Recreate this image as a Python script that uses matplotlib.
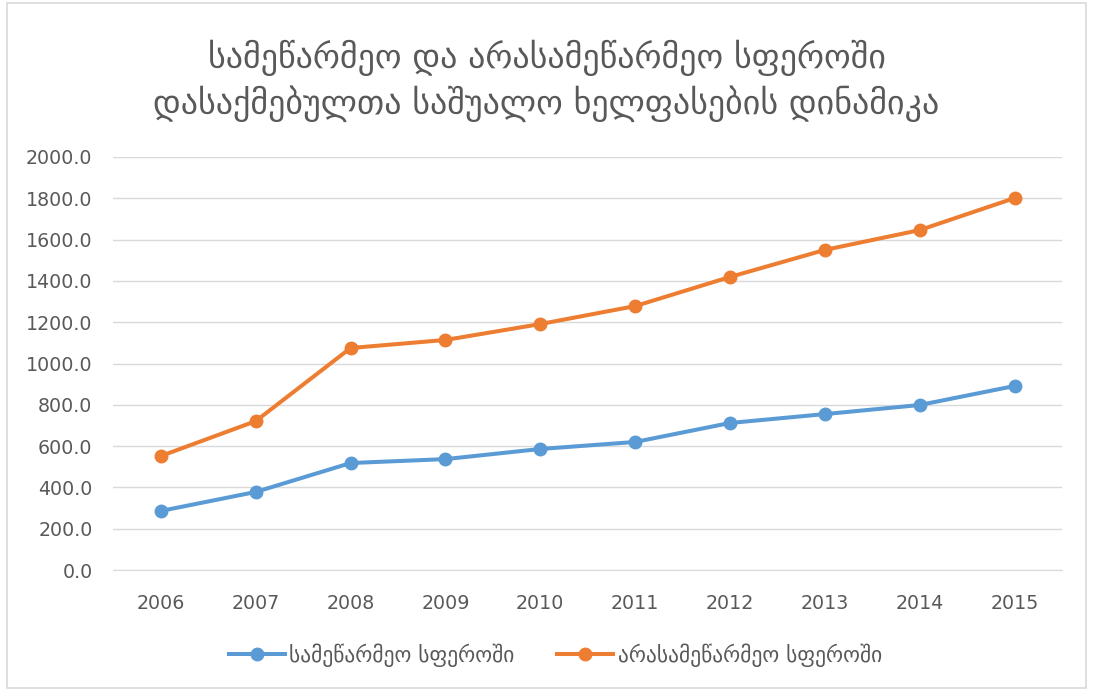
import matplotlib
matplotlib.use("Agg")
import matplotlib.pyplot as plt
from matplotlib.patches import Rectangle

years = ["2006", "2007", "2008", "2009", "2010", "2011", "2012", "2013", "2014", "2015"]
state_sector = [286, 378, 518, 537, 586, 620, 712, 755, 799, 891]
nonstate_sector = [552, 721, 1075, 1114, 1191, 1278, 1419, 1550, 1646, 1801]
series_names = ["სამეწარმეო სფეროში", "არასამეწარმეო სფეროში"]
title = "სამეწარმეო და არასამეწარმეო სფეროში\nდასაქმებულთა საშუალო ხელფასების დინამიკა"
yticks = [0, 200, 400, 600, 800, 1000, 1200, 1400, 1600, 1800, 2000]

plt.rcParams['font.family'] = ['DejaVu Sans']

fig = plt.figure(figsize=(10.93, 6.91), dpi=100)
fig.patches.append(Rectangle((0.006, 0.004), 0.988, 0.992, transform=fig.transFigure,
                             fill=False, edgecolor='#D9D9D9', linewidth=1.2))
ax = fig.add_axes([0.1038, 0.1751, 0.8678, 0.5977])

x = list(range(len(years)))
ax.plot(x, state_sector, color='#5B9BD5', linewidth=2.9, marker='o', markersize=9,
        label=series_names[0], zorder=3)
ax.plot(x, nonstate_sector, color='#ED7D31', linewidth=2.9, marker='o', markersize=9,
        label=series_names[1], zorder=3)

ax.set_xlim(-0.5, len(years) - 0.5)
ax.set_ylim(0, 2000)
ax.set_yticks(yticks)
ax.set_yticklabels([f"{v:.1f}" for v in yticks])
ax.set_xticks(x)
ax.set_xticklabels(years)
ax.yaxis.grid(True, color='#D9D9D9', linewidth=1)
ax.set_axisbelow(True)
for s in ax.spines.values():
    s.set_visible(False)
ax.spines['bottom'].set_visible(True)
ax.spines['bottom'].set_color('#D9D9D9')
ax.tick_params(axis='both', length=0, labelsize=13.7, colors='#595959')
ax.tick_params(axis='y', pad=15)
ax.tick_params(axis='x', pad=17)

fig.text(0.5, 0.883, title, ha='center', va='center', fontsize=24.5, color='#595959',
         linespacing=1.3)

leg = fig.legend(loc='center', bbox_to_anchor=(0.508, 0.052), ncol=2, frameon=False,
                 fontsize=15.5, handlelength=2.6, columnspacing=2.0, handletextpad=0.2)
for t in leg.get_texts():
    t.set_color('#595959')

fig.savefig('out.png', dpi=100, facecolor='white')
